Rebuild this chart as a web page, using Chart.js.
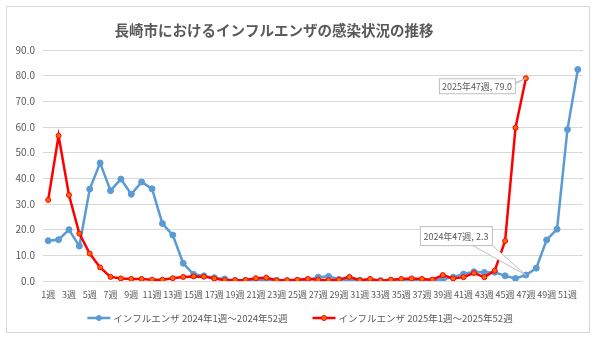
<!DOCTYPE html>
<html lang="ja">
<head>
<meta charset="utf-8">
<title>長崎市におけるインフルエンザの感染状況の推移</title>
<script src="https://cdn.jsdelivr.net/npm/chart.js@4.4.1/dist/chart.umd.min.js"></script>
<style>
  html, body { margin: 0; padding: 0; background: #fff; }
  #wrap {
    position: absolute; left: 6px; top: 6px;
    width: 584px; height: 327px;
    box-sizing: border-box;
    border: 1px solid #d9d9d9;
  }
  canvas { display: block; }
</style>
</head>
<body>
<div id="wrap"><canvas id="flu_chart"></canvas></div>
<script>
// 週ラベル (1週〜52週)
var weeks = Array.from({ length: 52 }, function (_, i) { return (i + 1) + '週'; });

// 定点当たり報告数 2024年
var flu2024 = [15.7, 16.1, 20.0, 13.6, 35.8, 46.0, 35.2, 39.7, 33.8, 38.6,
  35.9, 22.4, 17.9, 6.9, 2.6, 2.0, 1.3, 0.8, 0.2, 0.2,
  0.4, 0.3, 0.2, 0.1, 0.2, 0.5, 1.5, 1.8, 0.6, 0.4,
  0.3, 0.2, 0.2, 0.1, 0.1, 0.2, 0.2, 0.3, 0.7, 1.5,
  2.7, 3.6, 3.3, 3.4, 2.0, 1.0, 2.3, 5.0, 16.0, 20.2,
  59.0, 82.4];

// 定点当たり報告数 2025年 (47週まで)
var flu2025 = [31.6, 56.6, 33.5, 18.5, 10.7, 5.3, 1.6, 1.0, 0.8, 0.8,
  0.5, 0.5, 1.1, 1.6, 1.8, 1.7, 1.0, 0.3, 0.3, 0.4,
  1.1, 1.3, 0.3, 0.3, 0.5, 0.8, 0.5, 0.3, 0.5, 1.6,
  0.3, 0.8, 0.1, 0.5, 0.8, 1.0, 0.8, 0.5, 2.3, 1.0,
  1.5, 3.1, 1.5, 4.0, 15.6, 59.7, 79.0];

var seriesNames = ['インフルエンザ 2024年1週～2024年52週', 'インフルエンザ 2025年1週～2025年52週'];
var yTicks = [0, 10, 20, 30, 40, 50, 60, 70, 80, 90];

var BLUE = '#5B9BD5';
var RED = '#FF0000';
var MARK = '#FF6A00';
var TEXT = '#595959';
var FONT = '"Noto Sans CJK JP", "Noto Sans", sans-serif';

var titlePlugin = {
  id: 'excelTitle',
  afterDraw: function (chart) {
    var ctx = chart.ctx;
    ctx.save();
    ctx.font = 'bold 14.5px ' + FONT;
    ctx.fillStyle = TEXT;
    ctx.textAlign = 'center';
    ctx.textBaseline = 'middle';
    ctx.fillText('長崎市におけるインフルエンザの感染状況の推移', 267, 23);
    ctx.restore();
  }
};

// 凡例: 線＋マーカー＋系列名
var legendPlugin = {
  id: 'lineLegend',
  afterDraw: function (chart) {
    var ctx = chart.ctx;
    var sets = chart.data.datasets;
    var iconW = 23, gapIcon = 3, gapItem = 25, y = 311;
    ctx.save();
    ctx.font = '9.5px ' + FONT;
    var total = 0;
    sets.forEach(function (ds, i) {
      total += iconW + gapIcon + ctx.measureText(ds.label).width + (i ? gapItem : 0);
    });
    var x = chart.width / 2 - total / 2 + 2;
    sets.forEach(function (ds) {
      ctx.strokeStyle = ds.borderColor;
      ctx.lineWidth = ds.borderWidth;
      ctx.beginPath(); ctx.moveTo(x, y); ctx.lineTo(x + iconW, y); ctx.stroke();
      ctx.fillStyle = ds.backgroundColor;
      ctx.strokeStyle = ds.pointBorderColor || ds.borderColor;
      ctx.lineWidth = 1;
      ctx.beginPath(); ctx.arc(x + iconW / 2, y, 2.5, 0, Math.PI * 2); ctx.fill(); ctx.stroke();
      x += iconW + gapIcon;
      ctx.fillStyle = TEXT;
      ctx.textAlign = 'left';
      ctx.textBaseline = 'middle';
      ctx.fillText(ds.label, x, y);
      x += ctx.measureText(ds.label).width + gapItem;
    });
    ctx.restore();
  }
};

// 47週のデータラベル (吹き出し)
function callout(ctx, px, py, bx, by, bw, bh, text, ax1, ax2, ay) {
  ctx.fillStyle = '#fff';
  ctx.strokeStyle = '#bfbfbf';
  ctx.lineWidth = 1;
  ctx.beginPath();
  ctx.moveTo(ax1, ay);
  ctx.lineTo(px, py);
  ctx.lineTo(ax2, ay);
  ctx.closePath();
  ctx.fill(); ctx.stroke();
  ctx.fillRect(bx, by, bw, bh);
  ctx.strokeRect(bx + 0.5, by + 0.5, bw, bh);
  ctx.fillStyle = TEXT;
  ctx.font = '9px ' + FONT;
  ctx.textAlign = 'center';
  ctx.textBaseline = 'middle';
  ctx.fillText(text, bx + bw / 2, by + bh / 2 + 1);
}

var labelPlugin = {
  id: 'weekLabels',
  afterDatasetsDraw: function (chart) {
    var ctx = chart.ctx;
    var i = 46;
    var p24 = chart.getDatasetMeta(0).data[i];
    var p25 = chart.getDatasetMeta(1).data[i];
    ctx.save();
    callout(ctx, p25.x, p25.y, p25.x - 87, p25.y, 76, 15,
      '2025年47週, ' + flu2025[i].toFixed(1), p25.x - 14, p25.x - 11, p25.y + 6);
    callout(ctx, p24.x, p24.y, p24.x - 106, p24.y - 49, 72, 19,
      '2024年47週, ' + flu2024[i].toFixed(1), p24.x - 54, p24.x - 34, p24.y - 30);
    ctx.restore();
  }
};

new Chart(document.getElementById('flu_chart'), {
  type: 'line',
  data: {
    labels: weeks,
    datasets: [{
      label: seriesNames[0],
      data: flu2024,
      borderColor: BLUE,
      backgroundColor: BLUE,
      borderWidth: 2.5,
      pointRadius: 3,
      pointBorderWidth: 1,
      tension: 0,
      order: 2
    }, {
      label: seriesNames[1],
      data: flu2025,
      borderColor: RED,
      backgroundColor: MARK,
      pointBorderColor: RED,
      borderWidth: 2.5,
      pointRadius: 2.5,
      pointBorderWidth: 1,
      tension: 0,
      order: 1
    }]
  },
  options: {
    responsive: true,
    maintainAspectRatio: false,
    animation: false,
    layout: { padding: { left: 0, right: 6, top: 43, bottom: 27 } },
    plugins: {
      tooltip: { enabled: false },
      title: { display: false },
      legend: { display: false }
    },
    scales: {
      x: {
        offset: true,
        afterFit: function (s) { s.height = 24; },
        grid: { display: false, drawTicks: false },
        border: { display: false },
        ticks: {
          autoSkip: false,
          maxRotation: 0,
          color: TEXT,
          font: { family: FONT, size: 9 },
          padding: 8,
          callback: function (v, idx) { return idx % 2 === 0 ? weeks[idx] : ''; }
        }
      },
      y: {
        min: 0,
        max: 90,
        afterFit: function (s) { s.width = 36; },
        afterBuildTicks: function (s) { s.ticks = yTicks.map(function (v) { return { value: v }; }); },
        grid: { color: '#d9d9d9', drawTicks: false },
        border: { display: false },
        ticks: {
          color: TEXT,
          padding: 8,
          font: { family: FONT, size: 10 },
          callback: function (v) { return Number(v).toFixed(1); }
        }
      }
    }
  },
  plugins: [titlePlugin, legendPlugin, labelPlugin]
});
</script>
</body>
</html>
